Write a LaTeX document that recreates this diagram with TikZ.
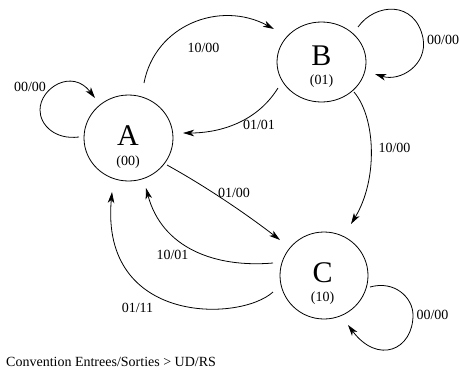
\documentclass[tikz,border=0pt]{standalone}
\usepackage{fontspec}
\setmainfont{Liberation Serif}
\usetikzlibrary{arrows.meta,calc,shapes.geometric}
\begin{document}
\begin{tikzpicture}[x=1pt,y=-1pt,
  state/.style={draw,ellipse,line width=0.8pt,inner sep=0pt},
  big/.style={font=\fontsize{30}{30}\selectfont,inner sep=0pt,anchor=base},
  code/.style={font=\fontsize{14}{14}\selectfont,inner sep=0pt,anchor=base},
  lbl/.style={font=\fontsize{14}{14}\selectfont,inner sep=0pt},
  arr/.style={line width=0.8pt,-{Stealth[length=11pt,width=6.5pt,inset=3pt]}}]
\useasboundingbox (0,0) rectangle (460,370);
% states
\node[state,minimum width=89pt,minimum height=86pt] (A) at (128.5,138) {};
\node[state,minimum width=89pt,minimum height=80pt] (B) at (321.5,62) {};
\node[state,minimum width=88pt,minimum height=87pt] (C) at (324,275.5) {};
\node[big] (tA) at (128,145) {A};
\node[code] (cA) at (128,165) {(00)};
\node[big] (tB) at (321.5,65) {B};
\node[code] (cB) at (321.5,84.5) {(01)};
\node[big] (tC) at (322.5,282.5) {C};
\node[code] (cC) at (322.5,301) {(10)};
% A -> B
\draw[arr] ($(A)+(15.5,-55)$) .. controls (155,25) and (220,0) .. ($(B)+(-47.5,-33)$);
\node[lbl] (l1) at (203.5,48) {10/00};
% B -> A
\draw[arr] ($(B)+(-43.5,26)$) .. controls (255,125) and (215,133) .. ($(A)+(54.5,-5)$);
\node[lbl] (l2) at (259,125) {01/01};
% B loop
\draw[arr] ($(B)+(36.5,-35)$) .. controls (375,3) and (415,0) .. ($(B)+(101.5,-24)$)
  .. controls (428,65) and (400,82) .. ($(B)+(53.5,12)$);
\node[lbl,anchor=west] (l3) at (427,40) {00/00};
% A loop
\draw[arr] ($(A)+(-49.5,-1)$) .. controls (55,140) and (40,125) .. ($(A)+(-88.5,-28)$)
  .. controls (40,88) and (72,68) .. ($(A)+(-33.5,-40)$);
\node[lbl] (l4) at (30,87) {00/00};
% B -> C
\draw[arr] ($(B)+(32.5,30)$) .. controls (376,118) and (378,180) .. ($(C)+(27,-51.5)$);
\node[lbl] (l5) at (394.5,148) {10/00};
% A -> C
\draw[arr] ($(A)+(38.5,27)$) .. controls (205,186) and (245,213) .. ($(C)+(-44,-35.5)$);
\node[lbl] (l6) at (234,193) {01/00};
% C -> A (10/01)
\draw[arr] ($(C)+(-51,-12.5)$) .. controls (215,268) and (162,248) .. ($(A)+(17.5,50)$);
\node[lbl] (l7) at (172.5,255) {10/01};
% C -> A (01/11)
\draw[arr] ($(C)+(-51,16.5)$) .. controls (240,322) and (100,325) .. ($(A)+(-16.5,54)$);
\node[lbl] (l8) at (137.5,308) {01/11};
% C loop
\draw[arr] ($(C)+(46,11.5)$) .. controls (395,280) and (413,298) .. ($(C)+(89,39.5)$)
  .. controls (413,350) and (378,365) .. ($(C)+(24,49.5)$);
\node[lbl] (l9) at (432.5,315) {00/00};
% caption
\node[code,anchor=base west] (cap) at (6,366.7) {Convention Entrees/Sorties > UD/RS};
\end{tikzpicture}
\end{document}
